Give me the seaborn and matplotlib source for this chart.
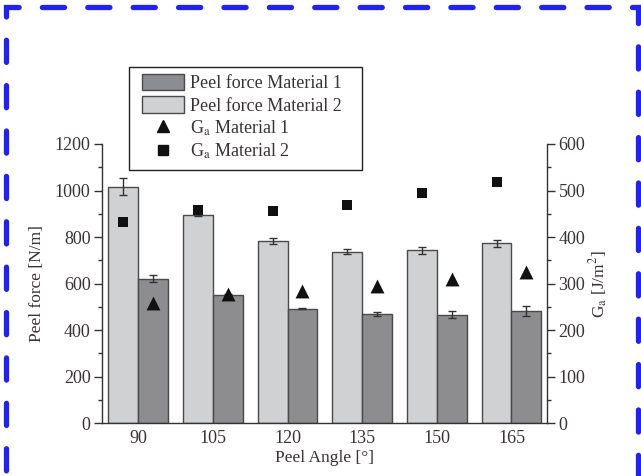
import numpy as np
import pandas as pd
import matplotlib
matplotlib.use("Agg")
import matplotlib.pyplot as plt
import seaborn as sns
from matplotlib.patches import Rectangle, Patch
from matplotlib.lines import Line2D
from matplotlib.ticker import MultipleLocator

angles = ["90", "105", "120", "135", "150", "165"]
force_m1 = [621, 553, 493, 470, 467, 484]
force_m1_err = [15, 4, 3, 9, 15, 22]
force_m2 = [1017, 897, 782, 738, 743, 773]
force_m2_err = [35, 8, 12, 12, 14, 16]
ga_m1 = [258, 278, 285, 296, 311, 325]
ga_m2 = [432, 458, 455, 469, 494, 519]

sns.set_theme(style="ticks")
plt.rcParams["font.family"] = ["Liberation Serif", "DejaVu Serif"]
plt.rcParams["mathtext.fontset"] = "stix"
txt = "#3a3333"

df = pd.DataFrame({
    "angle": angles * 2,
    "force": force_m2 + force_m1,
    "mat": ["Material 2"] * 6 + ["Material 1"] * 6,
})

W, H = 641, 476
fig = plt.figure(figsize=(6.41, 4.76), dpi=100)
L, R, T, B = 101.7, 547.3, 144, 423.3
ax = fig.add_axes([L/W, 1-B/H, (R-L)/W, (B-T)/H])

light = "#d0d1d3"
dark = "#8c8d90"
sns.barplot(data=df, x="angle", y="force", hue="mat", order=angles,
            hue_order=["Material 2", "Material 1"],
            palette=[light, dark], width=0.8, edgecolor="#4a4a4a",
            linewidth=1.0, ax=ax, legend=False, errorbar=None)

idx = np.arange(len(angles))
x_m2 = idx - 0.2
x_m1 = idx + 0.2
ax.errorbar(x_m2, force_m2, yerr=force_m2_err, fmt="none", ecolor="#333333",
            elinewidth=1.0, capsize=3, capthick=1.0)
ax.errorbar(x_m1, force_m1, yerr=force_m1_err, fmt="none", ecolor="#333333",
            elinewidth=1.0, capsize=3, capthick=1.0)

ax.set_xlim(-0.49, 5.48)
ax.set_ylim(0, 1200)
ax.yaxis.set_major_locator(MultipleLocator(200))
ax.yaxis.set_minor_locator(MultipleLocator(100))
ax.set_xlabel("Peel Angle [°]", fontsize=12.5, color=txt, labelpad=2)
ax.set_ylabel("Peel force [N/m]", fontsize=12.5, color=txt, labelpad=7)

ax2 = ax.twinx()
ax2.set_position(ax.get_position())
ax2.scatter(x_m1, ga_m1, marker="^", s=100, color="#111111", zorder=5, linewidths=0)
ax2.scatter(x_m2, ga_m2, marker="s", s=58, color="#111111", zorder=5, linewidths=0)
ax2.set_ylim(0, 600)
ax2.yaxis.set_major_locator(MultipleLocator(100))
ax2.yaxis.set_minor_locator(MultipleLocator(50))
ax2.set_ylabel("G$_\\mathrm{a}$ [J/m$^2$]", fontsize=12.5, color=txt, labelpad=2)

for a in (ax, ax2):
    a.spines["top"].set_visible(False)
    for s in a.spines.values():
        s.set_color("#333333")
        s.set_linewidth(1.0)
    a.tick_params(axis="both", which="major", direction="out", length=6,
                  width=1.0, color="#333333", labelsize=13, labelcolor=txt, pad=2)
    a.tick_params(axis="y", which="minor", direction="out", length=3,
                  width=1.0, color="#333333")
ax.spines["right"].set_visible(False)
ax2.spines["left"].set_visible(False)
ax2.spines["bottom"].set_visible(False)
ax.tick_params(axis="x", which="major", length=0, pad=5)

handles = [
    Patch(facecolor=dark, edgecolor="#4a4a4a", linewidth=1.0, label="Peel force Material 1"),
    Patch(facecolor=light, edgecolor="#4a4a4a", linewidth=1.0, label="Peel force Material 2"),
    Line2D([], [], marker="^", color="#111111", linestyle="none", markersize=9,
           label="G$_\\mathrm{a}$ Material 1"),
    Line2D([], [], marker="s", color="#111111", linestyle="none", markersize=7,
           label="G$_\\mathrm{a}$ Material 2"),
]
leg = fig.legend(handles=handles, loc="upper left",
                 bbox_to_anchor=(142/W, 1-73.5/H), fontsize=13,
                 frameon=False,
                 handlelength=2.35, handleheight=1.05, labelspacing=0.22,
                 borderpad=0, handletextpad=0.3, borderaxespad=0)
for t in leg.get_texts():
    t.set_color(txt)

# legend frame
frame = Rectangle((129.3/W, 1-170/H), (361.7-129.3)/W, (170-66.7)/H,
                  transform=fig.transFigure, fill=True, facecolor="white",
                  edgecolor="#222222", linewidth=1.0, zorder=0)
fig.patches.append(frame)

border = Rectangle((6/W, -0.2), (638-6)/W, 1.2 - 7/H,
                   transform=fig.transFigure, fill=False, edgecolor="#2222ee",
                   linewidth=3.8, linestyle=(0, (4.2, 4.4)),
                   clip_on=False)
border.set_capstyle("round")
fig.patches.append(border)

fig.savefig("out.png", dpi=100)
